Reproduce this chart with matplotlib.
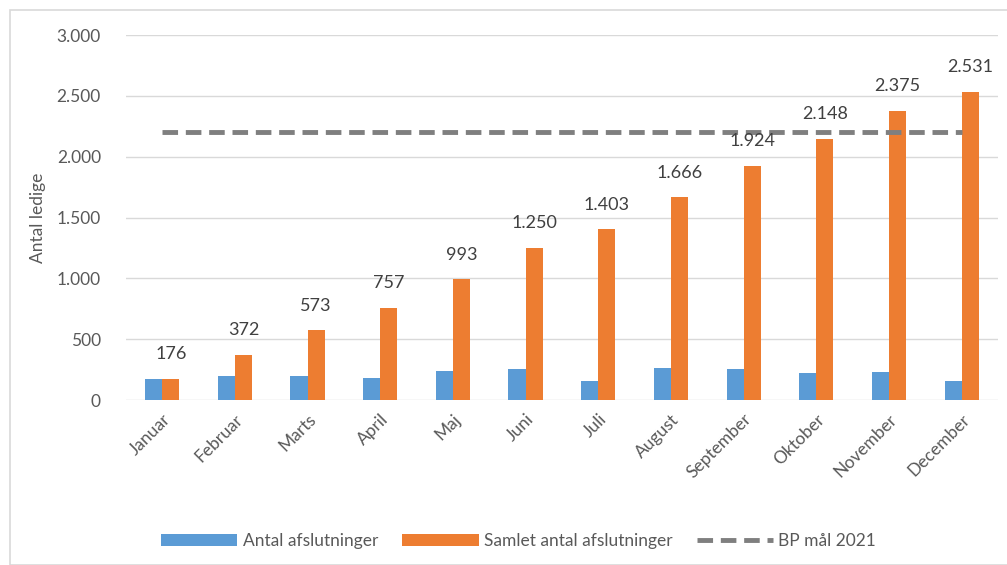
import matplotlib
matplotlib.use("Agg")
from matplotlib import pyplot as plt
from matplotlib.patches import Rectangle
import numpy as np

plt.rcParams['font.family'] = ['Lato', 'DejaVu Sans']

maaneder = ["Januar", "Februar", "Marts", "April", "Maj", "Juni", "Juli",
            "August", "September", "Oktober", "November", "December"]
afslutninger = [176, 196, 201, 184, 236, 257, 153, 263, 258, 224, 227, 156]
samlet = [176, 372, 573, 757, 993, 1250, 1403, 1666, 1924, 2148, 2375, 2531]
bp_maal = [2200, 2200, 2200, 2200, 2200, 2200, 2200, 2200, 2200, 2200, 2200, 2200]
y_ticks = [0, 500, 1000, 1500, 2000, 2500, 3000]
y_labels = ["0", "500", "1.000", "1.500", "2.000", "2.500", "3.000"]

blue = "#5b9bd5"
orange = "#ed7d31"
gray_txt = "#595959"

fig = plt.figure(figsize=(10.07, 5.65), dpi=100)
ax = fig.add_axes([0.125, 0.292, 0.866, 0.646])

x = np.arange(len(maaneder))
w = 0.235
b1 = ax.bar(x - w / 2, afslutninger, w, color=blue, label="Antal afslutninger", zorder=2)
b2 = ax.bar(x + w / 2, samlet, w, color=orange, label="Samlet antal afslutninger", zorder=2)
l1, = ax.plot(x, bp_maal, color="#7f7f7f", lw=3.5, ls=(0, (3.2, 1.6)),
              label="BP mål 2021", zorder=3)

for i, v in enumerate(samlet):
    ax.annotate(f"{v:,}".replace(",", "."), (x[i] + w / 2, v), xytext=(0, 12),
                textcoords="offset points", ha="center", va="bottom",
                fontsize=13, color="#404040", zorder=4)

ax.set_xlim(-0.5, len(maaneder) - 0.5)
ax.set_ylim(0, 3000)
ax.set_yticks(y_ticks)
ax.set_yticklabels(y_labels)
ax.set_xticks(x)
ax.set_xticklabels(maaneder, rotation=45, ha="right", rotation_mode="anchor")
ax.tick_params(axis="both", length=0, labelsize=12.5, labelcolor=gray_txt)
ax.tick_params(axis="y", pad=18)
ax.tick_params(axis="x", pad=8)
ax.grid(axis="y", color="#d9d9d9", lw=1, zorder=0)
for s in ax.spines.values():
    s.set_visible(False)
ax.set_ylabel("Antal ledige", fontsize=12.5, color=gray_txt, labelpad=8)

fig.legend([b1, b2, l1], ["Antal afslutninger", "Samlet antal afslutninger", "BP mål 2021"],
           loc="center", bbox_to_anchor=(0.515, 0.042), ncol=3, frameon=False,
           fontsize=12.5, labelcolor=gray_txt, handlelength=4.4, columnspacing=1.4,
           handletextpad=0.3)

fig.add_artist(Rectangle((10 / 1007, 0.0), 1.0, 1 - 10 / 565, transform=fig.transFigure,
                         fill=False, edgecolor="#d9d9d9", lw=1.2))

fig.savefig("out.png", dpi=100)
